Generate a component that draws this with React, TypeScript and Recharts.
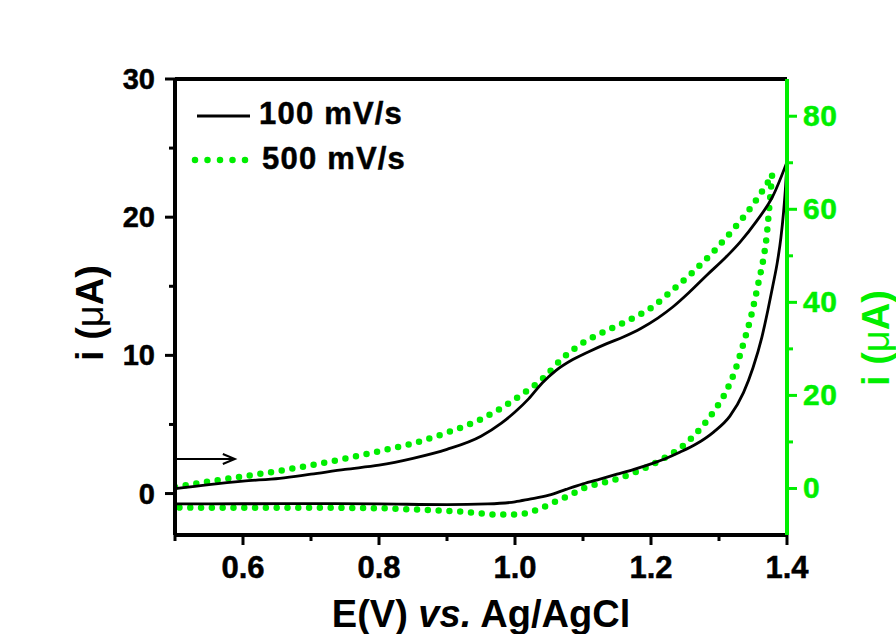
import { LineChart, Line, XAxis, YAxis, ReferenceLine, Legend } from "recharts";

type Pt = { e: number; i: number };

// 100 mV/s, anodic sweep (left axis, µA)
const slowForward: Pt[] = [
  { e: 0.5, i: 0.35 }, { e: 0.55, i: 0.65 }, { e: 0.6, i: 0.9 }, { e: 0.654, i: 1.1 },
  { e: 0.7, i: 1.4 }, { e: 0.75, i: 1.75 }, { e: 0.8, i: 2.05 }, { e: 0.85, i: 2.55 },
  { e: 0.9, i: 3.2 }, { e: 0.95, i: 4.15 }, { e: 0.98, i: 5.1 }, { e: 1.0, i: 5.9 },
  { e: 1.02, i: 6.85 }, { e: 1.04, i: 8.0 }, { e: 1.06, i: 8.9 }, { e: 1.085, i: 9.7 },
  { e: 1.11, i: 10.3 }, { e: 1.135, i: 10.85 }, { e: 1.16, i: 11.35 }, { e: 1.185, i: 11.95 },
  { e: 1.21, i: 12.7 }, { e: 1.232, i: 13.5 }, { e: 1.257, i: 14.6 }, { e: 1.282, i: 15.8 },
  { e: 1.31, i: 17.1 }, { e: 1.331, i: 18.2 }, { e: 1.355, i: 19.7 }, { e: 1.379, i: 21.5 },
  { e: 1.4, i: 24.0 },
];

// 100 mV/s, return sweep
const slowReverse: Pt[] = [
  { e: 1.4, i: 24.0 }, { e: 1.398, i: 22.3 }, { e: 1.395, i: 20.4 }, { e: 1.391, i: 18.5 },
  { e: 1.386, i: 16.8 }, { e: 1.379, i: 15.0 }, { e: 1.372, i: 13.3 }, { e: 1.363, i: 11.3 },
  { e: 1.35, i: 9.1 }, { e: 1.336, i: 7.3 }, { e: 1.316, i: 5.6 }, { e: 1.292, i: 4.45 },
  { e: 1.267, i: 3.6 }, { e: 1.243, i: 3.0 }, { e: 1.22, i: 2.5 }, { e: 1.2, i: 2.15 },
  { e: 1.175, i: 1.75 }, { e: 1.15, i: 1.4 }, { e: 1.125, i: 1.05 }, { e: 1.1, i: 0.7 },
  { e: 1.075, i: 0.3 }, { e: 1.05, i: -0.12 }, { e: 1.02, i: -0.42 }, { e: 1.0, i: -0.6 },
  { e: 0.96, i: -0.75 }, { e: 0.9, i: -0.8 }, { e: 0.8, i: -0.75 }, { e: 0.7, i: -0.73 },
  { e: 0.6, i: -0.74 }, { e: 0.5, i: -0.75 },
];

// 500 mV/s, anodic sweep (right axis, µA)
const fastForward: Pt[] = [
  { e: 0.5, i: 0.3 }, { e: 0.55, i: 1.5 }, { e: 0.6, i: 2.6 }, { e: 0.65, i: 3.7 },
  { e: 0.7, i: 5.0 }, { e: 0.75, i: 6.4 }, { e: 0.8, i: 8.0 }, { e: 0.85, i: 9.7 },
  { e: 0.9, i: 12.0 }, { e: 0.95, i: 14.9 }, { e: 0.98, i: 17.3 }, { e: 1.01, i: 20.2 },
  { e: 1.04, i: 23.5 }, { e: 1.07, i: 28.0 }, { e: 1.1, i: 31.3 }, { e: 1.13, i: 33.6 },
  { e: 1.165, i: 36.0 }, { e: 1.2, i: 38.8 }, { e: 1.23, i: 42.4 }, { e: 1.26, i: 46.3 },
  { e: 1.29, i: 50.6 }, { e: 1.32, i: 55.5 }, { e: 1.35, i: 61.0 }, { e: 1.378, i: 67.2 },
];

// 500 mV/s, return sweep
const fastReverse: Pt[] = [
  { e: 1.378, i: 67.2 }, { e: 1.376, i: 63.8 }, { e: 1.374, i: 60.5 }, { e: 1.37, i: 54.1 },
  { e: 1.365, i: 49.1 }, { e: 1.358, i: 44.2 }, { e: 1.348, i: 37.5 }, { e: 1.334, i: 30.2 },
  { e: 1.324, i: 25.5 }, { e: 1.311, i: 21.0 }, { e: 1.294, i: 16.9 }, { e: 1.274, i: 13.1 },
  { e: 1.25, i: 9.5 }, { e: 1.225, i: 7.0 }, { e: 1.2, i: 5.0 }, { e: 1.174, i: 3.3 },
  { e: 1.145, i: 1.8 }, { e: 1.12, i: 0.9 }, { e: 1.1, i: 0.0 }, { e: 1.08, i: -1.5 },
  { e: 1.06, i: -2.8 }, { e: 1.037, i: -4.3 }, { e: 1.003, i: -5.6 }, { e: 0.97, i: -5.6 },
  { e: 0.94, i: -5.2 }, { e: 0.9, i: -4.8 }, { e: 0.85, i: -4.5 }, { e: 0.8, i: -4.25 },
  { e: 0.7, i: -4.15 }, { e: 0.6, i: -4.15 }, { e: 0.5, i: -4.1 },
];

const potentialTicks = [0.5, 0.6, 0.7, 0.8, 0.9, 1.0, 1.1, 1.2, 1.3, 1.4];
const leftTicks = [0, 5, 10, 15, 20, 25, 30];
const rightTicks = [0, 10, 20, 30, 40, 50, 60, 70, 80];

// scan direction marker (start of the anodic sweep)
const arrowStart = { e: 0.5, i: 2.5 };
const arrowEnd = { e: 0.588, i: 2.5 };

const GREEN = "#00ee00";
const FONT = '"Liberation Sans", Arial, sans-serif';

const LeftTick = (props: any) => {
  const { x, y, payload } = props;
  const major = payload.value % 10 === 0;
  return (
    <g>
      <line x1={x - (major ? 10 : 6)} x2={x} y1={y} y2={y} stroke="#000" strokeWidth={3} />
      {major && (
        <text x={x - 20} y={y + 10} textAnchor="end" fontSize={29} fontWeight="bold" fontFamily={FONT} fill="#000" stroke="#000" strokeWidth={0.5}>
          {payload.value}
        </text>
      )}
    </g>
  );
};

const RightTick = (props: any) => {
  const { x, y, payload } = props;
  const major = payload.value % 20 === 0;
  return (
    <g>
      <line x1={x} x2={x + (major ? 10 : 6)} y1={y} y2={y} stroke={GREEN} strokeWidth={3} />
      {major && (
        <text x={x + 16} y={y + 10} textAnchor="start" fontSize={30} letterSpacing={0.5} fontWeight="bold" fontFamily={FONT} fill={GREEN} stroke={GREEN} strokeWidth={0.5}>
          {payload.value}
        </text>
      )}
    </g>
  );
};

const BottomTick = (props: any) => {
  const { x, y, payload } = props;
  const major = Math.round(payload.value * 10) % 2 === 0;
  return (
    <g>
      <line x1={x} x2={x} y1={y} y2={y + (major ? 10 : 6)} stroke="#000" strokeWidth={3} />
      {major && (
        <text x={x} y={y + 43} textAnchor="middle" fontSize={31} fontWeight="bold" fontFamily={FONT} fill="#000" stroke="#000" strokeWidth={0.5}>
          {payload.value.toFixed(1)}
        </text>
      )}
    </g>
  );
};

const ScanArrow = (props: any) => {
  const { x1, y1, x2, y2 } = props;
  return (
    <g>
      <line x1={x1} y1={y1} x2={x2} y2={y2} stroke="#000" strokeWidth={2} />
      <polyline points={`${x2 - 12},${y2 - 5} ${x2},${y2} ${x2 - 12},${y2 + 5}`} fill="none" stroke="#000" strokeWidth={2} />
    </g>
  );
};

const LegendBox = () => (
  <svg width={240} height={90} style={{ display: "block" }}>
    <line x1={7} x2={60} y1={26} y2={26} stroke="#000" strokeWidth={3} />
    <text x={69} y={34} fontSize={31} letterSpacing={1.2} fontWeight="bold" fontFamily={FONT} fill="#000" stroke="#000" strokeWidth={0.5}>
      100 mV/s
    </text>
    <line x1={5} x2={55.1} y1={70} y2={70} stroke={GREEN} strokeWidth={6.5} strokeDasharray="0 12.5" strokeLinecap="round" />
    <text x={72} y={79} fontSize={31} letterSpacing={1.2} fontWeight="bold" fontFamily={FONT} fill="#000" stroke="#000" strokeWidth={0.5}>
      500 mV/s
    </text>
  </svg>
);

const xTitle = ({ viewBox }: any) => (
  <text x={viewBox.x + viewBox.width / 2} y={viewBox.y + 92} textAnchor="middle" fontSize={38} fontWeight="bold" fontFamily={FONT} fill="#000">
    E(V) <tspan fontStyle="italic">vs.</tspan> Ag/AgCl
  </text>
);

const leftTitle = ({ viewBox }: any) => {
  const cx = viewBox.x + viewBox.width - 85;
  const cy = viewBox.y + viewBox.height / 2 + 6;
  return (
    <text x={cx} y={cy} transform={`rotate(-90, ${cx}, ${cy})`} textAnchor="middle" dominantBaseline="central" fontSize={38} fontWeight="bold" fontFamily={FONT} fill="#000">
      i (<tspan fontWeight="normal">μ</tspan>A)
    </text>
  );
};

const rightTitle = ({ viewBox }: any) => {
  const cx = viewBox.x + 89;
  const cy = viewBox.y + viewBox.height / 2 + 31;
  return (
    <text x={cx} y={cy} transform={`rotate(-90, ${cx}, ${cy})`} textAnchor="middle" dominantBaseline="central" fontSize={38} fontWeight="bold" fontFamily={FONT} fill={GREEN}>
      i (<tspan fontWeight="normal">μ</tspan>A)
    </text>
  );
};

export default function App() {
  return (
    <div style={{ position: "absolute", left: 0, top: 0, width: 896, height: 634, background: "#fff", overflow: "hidden" }}>
      <LineChart width={896} height={634} margin={{ top: 79, right: 49, bottom: 69, left: 115 }}>
        <XAxis
          dataKey="e"
          type="number"
          domain={[0.5, 1.4]}
          ticks={potentialTicks}
          interval={0}
          allowDataOverflow
          height={30}
          tickSize={0}
          tickMargin={0}
          tickLine={false}
          tick={<BottomTick />}
          axisLine={{ stroke: "#000", strokeWidth: 4 }}
          label={{ content: xTitle }}
        />
        <YAxis
          yAxisId="left"
          orientation="left"
          type="number"
          domain={[-3, 30]}
          ticks={leftTicks}
          interval={0}
          allowDataOverflow
          width={60}
          tickSize={0}
          tickMargin={0}
          tickLine={false}
          tick={<LeftTick />}
          axisLine={{ stroke: "#000", strokeWidth: 4 }}
          label={{ content: leftTitle }}
        />
        <YAxis
          yAxisId="right"
          orientation="right"
          type="number"
          domain={[-10, 88]}
          ticks={rightTicks}
          interval={0}
          allowDataOverflow
          width={60}
          tickSize={0}
          tickMargin={0}
          tickLine={false}
          tick={<RightTick />}
          axisLine={{ stroke: GREEN, strokeWidth: 4 }}
          label={{ content: rightTitle }}
        />
        <ReferenceLine yAxisId="left" y={30} stroke="#000" strokeWidth={4} />
        <ReferenceLine
          yAxisId="left"
          segment={[
            { x: arrowStart.e, y: arrowStart.i },
            { x: arrowEnd.e, y: arrowEnd.i },
          ]}
          shape={<ScanArrow />}
        />
        <Line data={fastForward} dataKey="i" yAxisId="right" type="monotone" stroke={GREEN} strokeWidth={6.5} strokeDasharray="0 10.8" strokeLinecap="round" dot={false} isAnimationActive={false} />
        <Line data={fastReverse} dataKey="i" yAxisId="right" type="monotone" stroke={GREEN} strokeWidth={6.5} strokeDasharray="0 10.8" strokeLinecap="round" dot={false} isAnimationActive={false} />
        <Line data={slowForward} dataKey="i" yAxisId="left" type="monotone" stroke="#000" strokeWidth={2.8} dot={false} isAnimationActive={false} />
        <Line data={slowReverse} dataKey="i" yAxisId="left" type="monotone" stroke="#000" strokeWidth={2.8} dot={false} isAnimationActive={false} />
        <Legend
          layout="vertical"
          align="center"
          verticalAlign="middle"
          content={() => <LegendBox />}
          wrapperStyle={{ left: 190, top: 90, width: 240, height: 90 }}
        />
      </LineChart>
    </div>
  );
}
